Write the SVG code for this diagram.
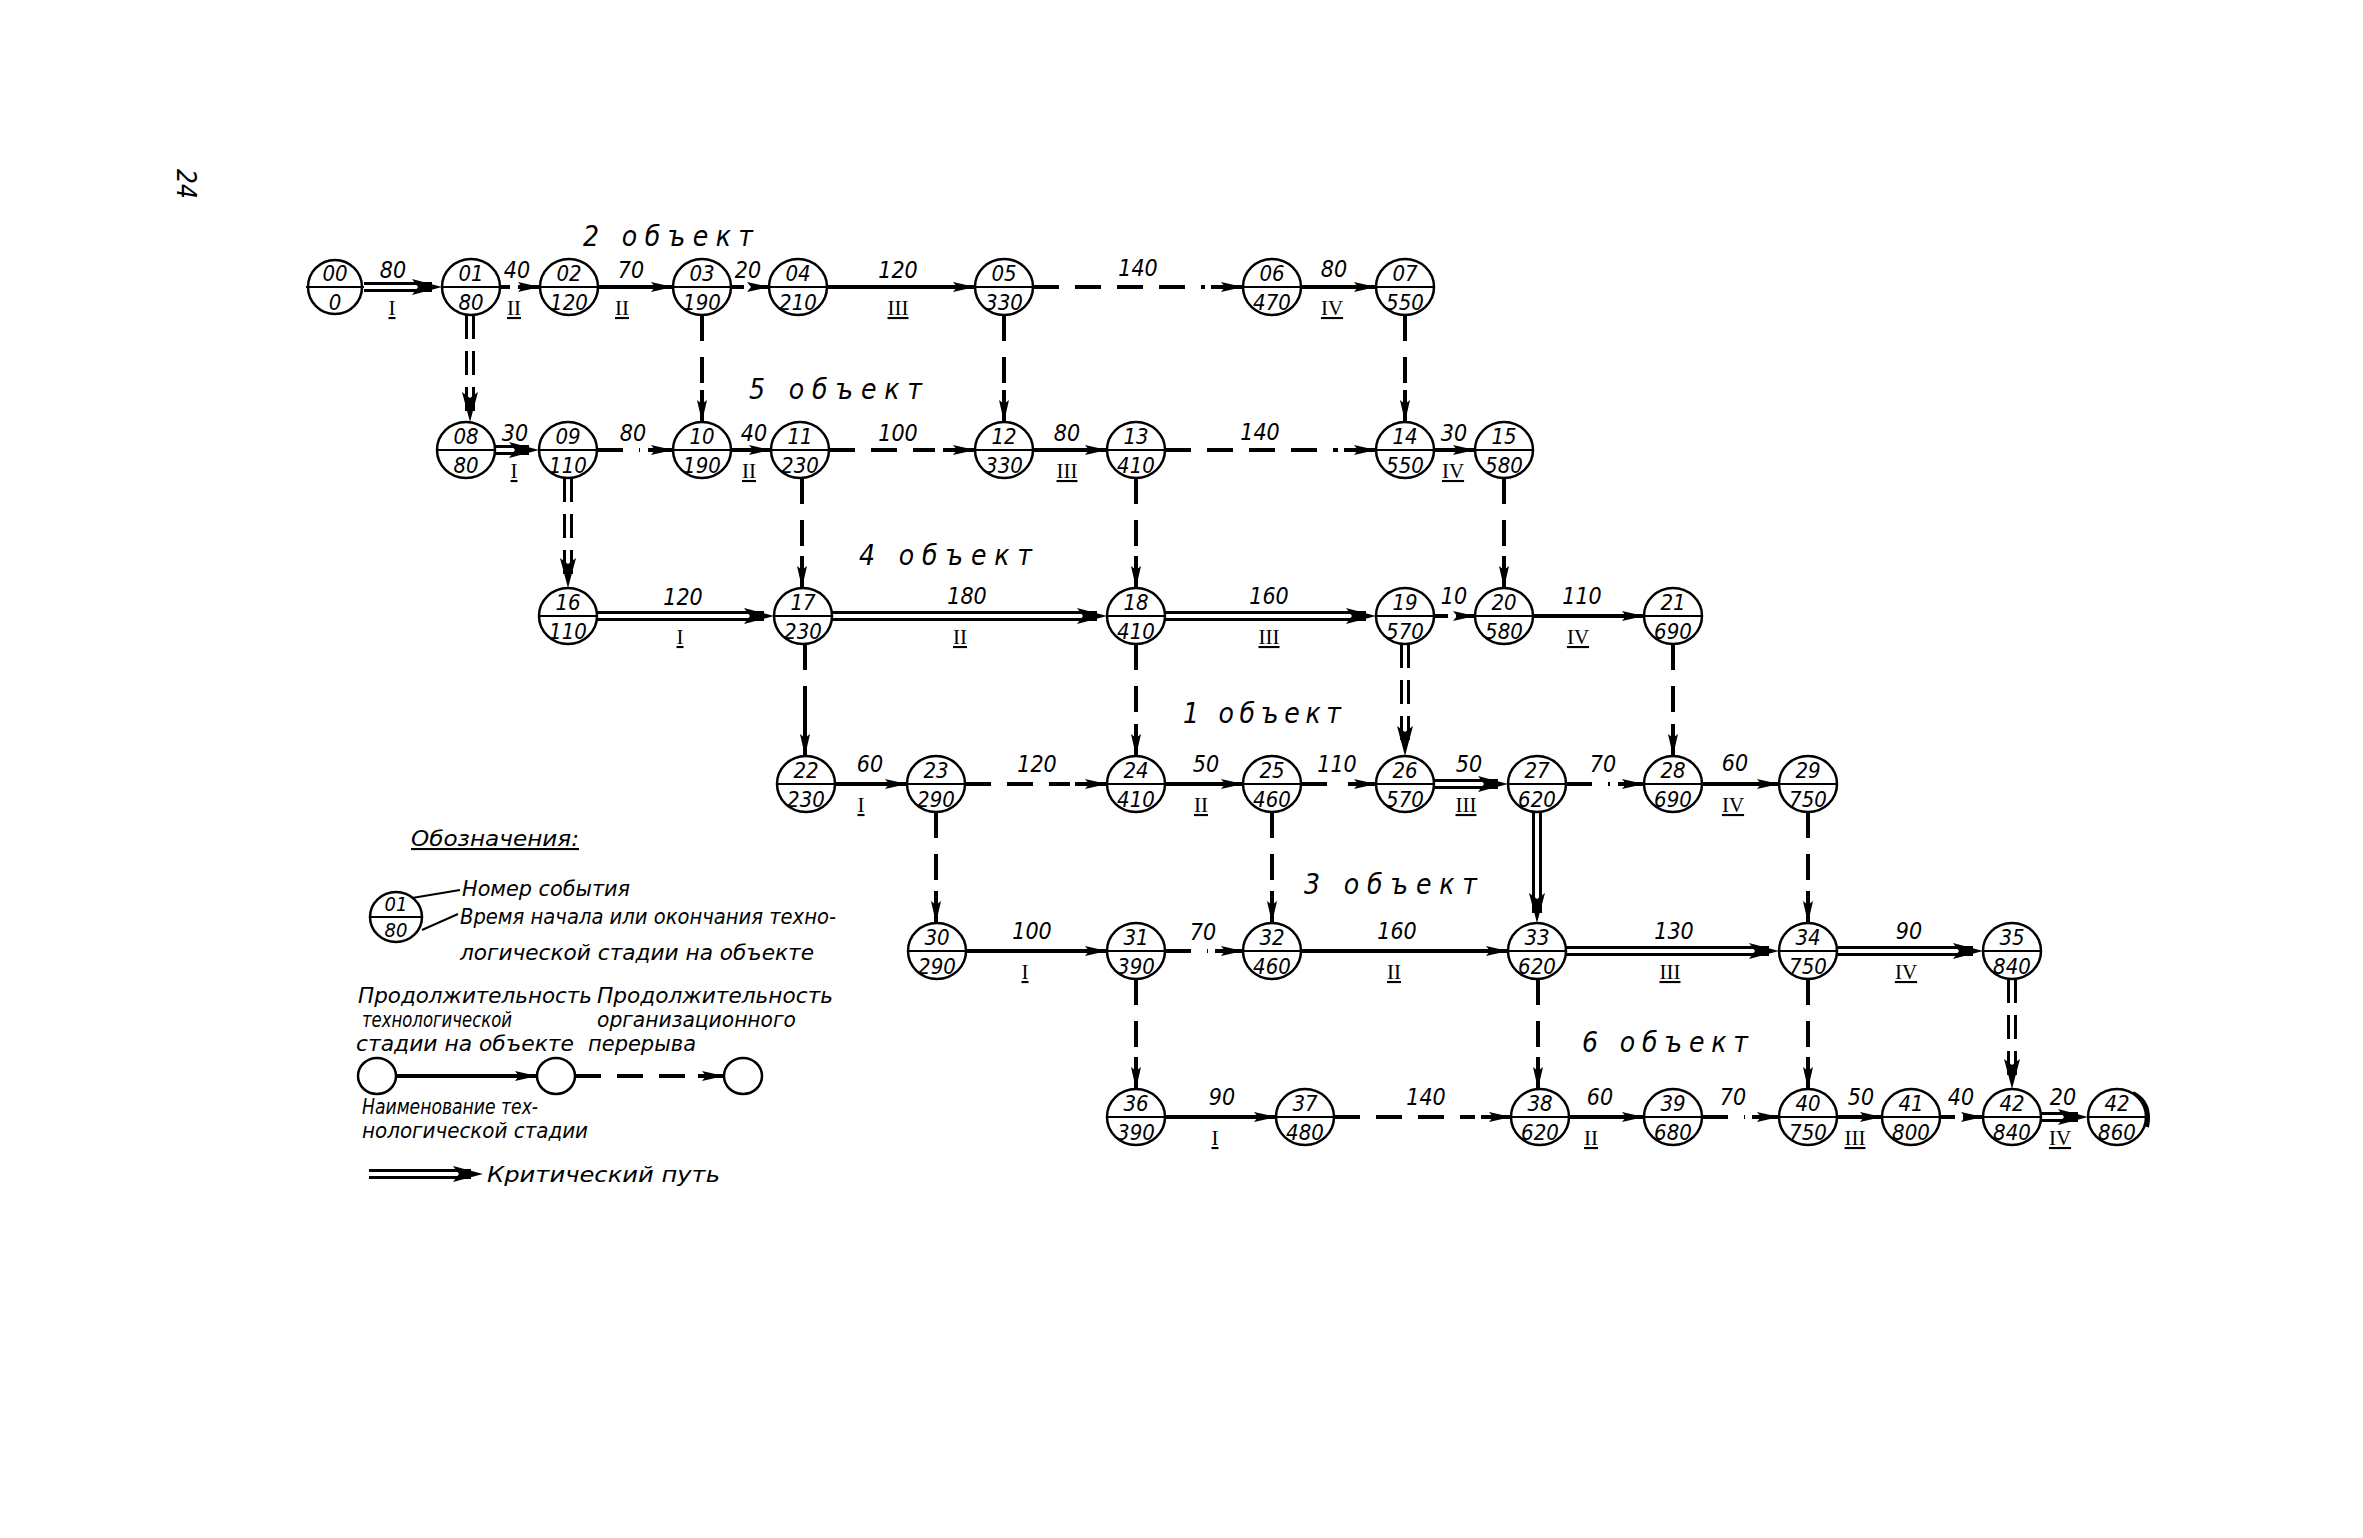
<svg xmlns="http://www.w3.org/2000/svg" width="2363" height="1538" viewBox="0 0 2363 1538">
<style>
.bg{fill:#fff}
.n ellipse{fill:#fff;stroke:#000;stroke-width:2.5}
.n line{stroke:#000;stroke-width:2}
.n text{font-family:"DejaVu Sans Condensed","DejaVu Sans",sans-serif;font-stretch:condensed;font-style:italic;font-size:22px;text-anchor:middle;fill:#000}
.s{stroke:#000;stroke-width:4;fill:none}
.d{stroke:#000;stroke-width:4;fill:none;stroke-dasharray:26 16}
.w{stroke:#000;stroke-width:3;fill:none}
.wd{stroke:#000;stroke-width:3;fill:none;stroke-dasharray:24 12}
.m{stroke:none;fill:none}
.num{font-family:"DejaVu Sans Condensed","DejaVu Sans",sans-serif;font-stretch:condensed;font-style:italic;font-size:23px;text-anchor:middle;fill:#000}
.rom{font-family:"Liberation Serif",serif;font-size:21px;text-anchor:middle;text-decoration:underline;fill:#000}
.ttl{font-family:"DejaVu Sans Condensed","DejaVu Sans",sans-serif;font-style:italic;font-size:28px;fill:#000}
.lg{font-family:"DejaVu Sans Condensed","DejaVu Sans",sans-serif;font-stretch:condensed;font-style:italic;font-size:21px;fill:#000}
</style>
<defs>
<marker id="ah" markerUnits="userSpaceOnUse" markerWidth="22" markerHeight="10" refX="22" refY="5" orient="auto"><path d="M0,0 L22,5 L0,10 L4,5 z" fill="#000"/></marker>
<marker id="ahd" markerUnits="userSpaceOnUse" markerWidth="30" markerHeight="16" refX="30" refY="8" orient="auto"><path d="M0,0 L30,8 L0,16 L6,8 z" fill="#000"/></marker>
</defs>
<rect class="bg" x="0" y="0" width="2363" height="1538"/>

<text x="184" y="184" class="num" style="font-size:26px" transform="rotate(90 184 184)" dominant-baseline="middle">24</text>

<g id="titles">
<text class="ttl" x="583" y="246" textLength="170" lengthAdjust="spacing">2 объект</text>
<text class="ttl" x="749" y="399" textLength="173" lengthAdjust="spacing">5 объект</text>
<text class="ttl" x="859" y="565" textLength="173" lengthAdjust="spacing">4 объект</text>
<text class="ttl" x="1183" y="723" textLength="158" lengthAdjust="spacing">1 объект</text>
<text class="ttl" x="1304" y="894" textLength="173" lengthAdjust="spacing">3 объект</text>
<text class="ttl" x="1582" y="1052" textLength="166" lengthAdjust="spacing">6 объект</text>
</g>

<g id="connectors">
<!-- Row 1 -->
<path class="w" d="M364,283.5 H432"/><path class="w" d="M364,290.5 H432"/><path class="m" d="M364,287 H442" marker-end="url(#ahd)"/>
<path class="s" d="M500,287 H510"/><path class="s" d="M518,287 H540" marker-end="url(#ah)"/>
<path class="s" d="M598,287 H673" marker-end="url(#ah)"/>
<path class="s" d="M731,287 H744"/><path class="s" d="M752,287 H769" marker-end="url(#ah)"/>
<path class="s" d="M827,287 H975" marker-end="url(#ah)"/>
<path class="d" d="M1033,287 H1205"/><path class="s" d="M1211,287 H1243" marker-end="url(#ah)"/>
<path class="s" d="M1301,287 H1376" marker-end="url(#ah)"/>
<!-- Row 2 -->
<path class="w" d="M495,446.5 H529"/><path class="w" d="M495,453.5 H529"/><path class="m" d="M495,450 H539" marker-end="url(#ahd)"/>
<path class="d" d="M597,450 H640"/><path class="s" d="M648,450 H673" marker-end="url(#ah)"/>
<path class="s" d="M731,450 H771" marker-end="url(#ah)"/>
<path class="d" d="M829,450 H935"/><path class="s" d="M943,450 H975" marker-end="url(#ah)"/>
<path class="s" d="M1033,450 H1107" marker-end="url(#ah)"/>
<path class="d" d="M1165,450 H1338"/><path class="s" d="M1344,450 H1376" marker-end="url(#ah)"/>
<path class="s" d="M1434,450 H1475" marker-end="url(#ah)"/>
<!-- Row 3 -->
<path class="w" d="M597,612.5 H764"/><path class="w" d="M597,619.5 H764"/><path class="m" d="M597,616 H774" marker-end="url(#ahd)"/>
<path class="w" d="M832,612.5 H1097"/><path class="w" d="M832,619.5 H1097"/><path class="m" d="M832,616 H1107" marker-end="url(#ahd)"/>
<path class="w" d="M1165,612.5 H1366"/><path class="w" d="M1165,619.5 H1366"/><path class="m" d="M1165,616 H1376" marker-end="url(#ahd)"/>
<path class="s" d="M1434,616 H1448"/><path class="s" d="M1456,616 H1475" marker-end="url(#ah)"/>
<path class="s" d="M1533,616 H1644" marker-end="url(#ah)"/>
<!-- Row 4 -->
<path class="s" d="M835,784 H907" marker-end="url(#ah)"/>
<path class="d" d="M965,784 H1070"/><path class="s" d="M1075,784 H1107" marker-end="url(#ah)"/>
<path class="s" d="M1165,784 H1243" marker-end="url(#ah)"/>
<path class="d" d="M1301,784 H1340"/><path class="s" d="M1348,784 H1376" marker-end="url(#ah)"/>
<path class="w" d="M1434,780.5 H1498"/><path class="w" d="M1434,787.5 H1498"/><path class="m" d="M1434,784 H1508" marker-end="url(#ahd)"/>
<path class="d" d="M1566,784 H1610"/><path class="s" d="M1618,784 H1644" marker-end="url(#ah)"/>
<path class="s" d="M1702,784 H1779" marker-end="url(#ah)"/>
<!-- Row 5 -->
<path class="s" d="M966,951 H1107" marker-end="url(#ah)"/>
<path class="d" d="M1165,951 H1208"/><path class="s" d="M1215,951 H1243" marker-end="url(#ah)"/>
<path class="s" d="M1301,951 H1508" marker-end="url(#ah)"/>
<path class="w" d="M1566,947.5 H1769"/><path class="w" d="M1566,954.5 H1769"/><path class="m" d="M1566,951 H1779" marker-end="url(#ahd)"/>
<path class="w" d="M1837,947.5 H1973"/><path class="w" d="M1837,954.5 H1973"/><path class="m" d="M1837,951 H1983" marker-end="url(#ahd)"/>
<!-- Row 6 -->
<path class="s" d="M1165,1117 H1276" marker-end="url(#ah)"/>
<path class="d" d="M1334,1117 H1475"/><path class="s" d="M1481,1117 H1511" marker-end="url(#ah)"/>
<path class="s" d="M1569,1117 H1644" marker-end="url(#ah)"/>
<path class="d" d="M1702,1117 H1745"/><path class="s" d="M1752,1117 H1779" marker-end="url(#ah)"/>
<path class="s" d="M1837,1117 H1882" marker-end="url(#ah)"/>
<path class="s" d="M1940,1117 H1955"/><path class="s" d="M1963,1117 H1983" marker-end="url(#ah)"/>
<path class="w" d="M2041,1113.5 H2078"/><path class="w" d="M2041,1120.5 H2078"/><path class="m" d="M2041,1117 H2088" marker-end="url(#ahd)"/>
<!-- Verticals -->
<path class="wd" d="M466.5,315 V412"/><path class="wd" d="M473.5,315 V412"/><path class="m" d="M470,315 V422" marker-end="url(#ahd)"/>
<path class="d" d="M702,315 V390"/><path class="s" d="M702,390 V422" marker-end="url(#ah)"/>
<path class="d" d="M1004,315 V390"/><path class="s" d="M1004,390 V422" marker-end="url(#ah)"/>
<path class="d" d="M1405,315 V390"/><path class="s" d="M1405,390 V422" marker-end="url(#ah)"/>
<path class="wd" d="M564.5,478 V578"/><path class="wd" d="M571.5,478 V578"/><path class="m" d="M568,478 V588" marker-end="url(#ahd)"/>
<path class="d" d="M802,478 V556"/><path class="s" d="M802,556 V588" marker-end="url(#ah)"/>
<path class="d" d="M1136,478 V556"/><path class="s" d="M1136,556 V588" marker-end="url(#ah)"/>
<path class="d" d="M1504,478 V556"/><path class="s" d="M1504,556 V588" marker-end="url(#ah)"/>
<path class="d" d="M805,644 V712"/><path class="s" d="M805,712 V756" marker-end="url(#ah)"/>
<path class="d" d="M1136,644 V724"/><path class="s" d="M1136,724 V756" marker-end="url(#ah)"/>
<path class="wd" d="M1401.5,644 V746"/><path class="wd" d="M1408.5,644 V746"/><path class="m" d="M1405,644 V756" marker-end="url(#ahd)"/>
<path class="d" d="M1673,644 V724"/><path class="s" d="M1673,724 V756" marker-end="url(#ah)"/>
<path class="d" d="M936,812 V891"/><path class="s" d="M936,891 V923" marker-end="url(#ah)"/>
<path class="d" d="M1272,812 V891"/><path class="s" d="M1272,891 V923" marker-end="url(#ah)"/>
<path class="w" d="M1533.5,812 V913"/><path class="w" d="M1540.5,812 V913"/><path class="m" d="M1537,812 V923" marker-end="url(#ahd)"/>
<path class="d" d="M1808,812 V891"/><path class="s" d="M1808,891 V923" marker-end="url(#ah)"/>
<path class="d" d="M1136,979 V1057"/><path class="s" d="M1136,1057 V1089" marker-end="url(#ah)"/>
<path class="d" d="M1538,979 V1057"/><path class="s" d="M1538,1057 V1089" marker-end="url(#ah)"/>
<path class="d" d="M1808,979 V1057"/><path class="s" d="M1808,1057 V1089" marker-end="url(#ah)"/>
<path class="wd" d="M2008.5,979 V1079"/><path class="wd" d="M2015.5,979 V1079"/><path class="m" d="M2012,979 V1089" marker-end="url(#ahd)"/>
<!-- end mark on final event -->
<path class="s" d="M2133,1093 Q2152,1103 2147,1127"/>
</g>

<g id="labels">
<text class="num" x="393" y="278">80</text><text class="rom" x="392" y="315">I</text>
<text class="num" x="517" y="278">40</text><text class="rom" x="514" y="315">II</text>
<text class="num" x="631" y="278">70</text><text class="rom" x="622" y="315">II</text>
<text class="num" x="748" y="278">20</text>
<text class="num" x="898" y="278">120</text><text class="rom" x="898" y="315">III</text>
<text class="num" x="1138" y="276">140</text>
<text class="num" x="1334" y="277">80</text><text class="rom" x="1332" y="315">IV</text>

<text class="num" x="515" y="441">30</text><text class="rom" x="514" y="478">I</text>
<text class="num" x="633" y="441">80</text>
<text class="num" x="754" y="441">40</text><text class="rom" x="749" y="478">II</text>
<text class="num" x="898" y="441">100</text>
<text class="num" x="1067" y="441">80</text><text class="rom" x="1067" y="478">III</text>
<text class="num" x="1260" y="440">140</text>
<text class="num" x="1454" y="441">30</text><text class="rom" x="1453" y="478">IV</text>

<text class="num" x="683" y="605">120</text><text class="rom" x="680" y="644">I</text>
<text class="num" x="967" y="604">180</text><text class="rom" x="960" y="644">II</text>
<text class="num" x="1269" y="604">160</text><text class="rom" x="1269" y="644">III</text>
<text class="num" x="1454" y="604">10</text>
<text class="num" x="1582" y="604">110</text><text class="rom" x="1578" y="644">IV</text>

<text class="num" x="870" y="772">60</text><text class="rom" x="861" y="812">I</text>
<text class="num" x="1037" y="772">120</text>
<text class="num" x="1206" y="772">50</text><text class="rom" x="1201" y="812">II</text>
<text class="num" x="1337" y="772">110</text>
<text class="num" x="1469" y="772">50</text><text class="rom" x="1466" y="812">III</text>
<text class="num" x="1603" y="772">70</text>
<text class="num" x="1735" y="771">60</text><text class="rom" x="1733" y="812">IV</text>

<text class="num" x="1032" y="939">100</text><text class="rom" x="1025" y="979">I</text>
<text class="num" x="1203" y="940">70</text>
<text class="num" x="1397" y="939">160</text><text class="rom" x="1394" y="979">II</text>
<text class="num" x="1674" y="939">130</text><text class="rom" x="1670" y="979">III</text>
<text class="num" x="1909" y="939">90</text><text class="rom" x="1906" y="979">IV</text>

<text class="num" x="1222" y="1105">90</text><text class="rom" x="1215" y="1145">I</text>
<text class="num" x="1426" y="1105">140</text>
<text class="num" x="1600" y="1105">60</text><text class="rom" x="1591" y="1145">II</text>
<text class="num" x="1733" y="1105">70</text>
<text class="num" x="1861" y="1105">50</text><text class="rom" x="1855" y="1145">III</text>
<text class="num" x="1961" y="1105">40</text>
<text class="num" x="2063" y="1105">20</text><text class="rom" x="2060" y="1145">IV</text>
</g>

<g id="n00" class="n"><ellipse cx="335" cy="287" rx="27" ry="27"/><line x1="306" y1="287" x2="364" y2="287"/><text x="335" y="281">00</text><text x="335" y="310">0</text></g>
<g id="n01" class="n"><ellipse cx="471" cy="287" rx="29" ry="28"/><line x1="442" y1="287" x2="500" y2="287"/><text x="471" y="281">01</text><text x="471" y="310">80</text></g>
<g id="n02" class="n"><ellipse cx="569" cy="287" rx="29" ry="28"/><line x1="540" y1="287" x2="598" y2="287"/><text x="569" y="281">02</text><text x="569" y="310">120</text></g>
<g id="n03" class="n"><ellipse cx="702" cy="287" rx="29" ry="28"/><line x1="673" y1="287" x2="731" y2="287"/><text x="702" y="281">03</text><text x="702" y="310">190</text></g>
<g id="n04" class="n"><ellipse cx="798" cy="287" rx="29" ry="28"/><line x1="769" y1="287" x2="827" y2="287"/><text x="798" y="281">04</text><text x="798" y="310">210</text></g>
<g id="n05" class="n"><ellipse cx="1004" cy="287" rx="29" ry="28"/><line x1="975" y1="287" x2="1033" y2="287"/><text x="1004" y="281">05</text><text x="1004" y="310">330</text></g>
<g id="n06" class="n"><ellipse cx="1272" cy="287" rx="29" ry="28"/><line x1="1243" y1="287" x2="1301" y2="287"/><text x="1272" y="281">06</text><text x="1272" y="310">470</text></g>
<g id="n07" class="n"><ellipse cx="1405" cy="287" rx="29" ry="28"/><line x1="1376" y1="287" x2="1434" y2="287"/><text x="1405" y="281">07</text><text x="1405" y="310">550</text></g>

<g id="n08" class="n"><ellipse cx="466" cy="450" rx="29" ry="28"/><line x1="437" y1="450" x2="495" y2="450"/><text x="466" y="444">08</text><text x="466" y="473">80</text></g>
<g id="n09" class="n"><ellipse cx="568" cy="450" rx="29" ry="28"/><line x1="539" y1="450" x2="597" y2="450"/><text x="568" y="444">09</text><text x="568" y="473">110</text></g>
<g id="n10" class="n"><ellipse cx="702" cy="450" rx="29" ry="28"/><line x1="673" y1="450" x2="731" y2="450"/><text x="702" y="444">10</text><text x="702" y="473">190</text></g>
<g id="n11" class="n"><ellipse cx="800" cy="450" rx="29" ry="28"/><line x1="771" y1="450" x2="829" y2="450"/><text x="800" y="444">11</text><text x="800" y="473">230</text></g>
<g id="n12" class="n"><ellipse cx="1004" cy="450" rx="29" ry="28"/><line x1="975" y1="450" x2="1033" y2="450"/><text x="1004" y="444">12</text><text x="1004" y="473">330</text></g>
<g id="n13" class="n"><ellipse cx="1136" cy="450" rx="29" ry="28"/><line x1="1107" y1="450" x2="1165" y2="450"/><text x="1136" y="444">13</text><text x="1136" y="473">410</text></g>
<g id="n14" class="n"><ellipse cx="1405" cy="450" rx="29" ry="28"/><line x1="1376" y1="450" x2="1434" y2="450"/><text x="1405" y="444">14</text><text x="1405" y="473">550</text></g>
<g id="n15" class="n"><ellipse cx="1504" cy="450" rx="29" ry="28"/><line x1="1475" y1="450" x2="1533" y2="450"/><text x="1504" y="444">15</text><text x="1504" y="473">580</text></g>

<g id="n16" class="n"><ellipse cx="568" cy="616" rx="29" ry="28"/><line x1="539" y1="616" x2="597" y2="616"/><text x="568" y="610">16</text><text x="568" y="639">110</text></g>
<g id="n17" class="n"><ellipse cx="803" cy="616" rx="29" ry="28"/><line x1="774" y1="616" x2="832" y2="616"/><text x="803" y="610">17</text><text x="803" y="639">230</text></g>
<g id="n18" class="n"><ellipse cx="1136" cy="616" rx="29" ry="28"/><line x1="1107" y1="616" x2="1165" y2="616"/><text x="1136" y="610">18</text><text x="1136" y="639">410</text></g>
<g id="n19" class="n"><ellipse cx="1405" cy="616" rx="29" ry="28"/><line x1="1376" y1="616" x2="1434" y2="616"/><text x="1405" y="610">19</text><text x="1405" y="639">570</text></g>
<g id="n20" class="n"><ellipse cx="1504" cy="616" rx="29" ry="28"/><line x1="1475" y1="616" x2="1533" y2="616"/><text x="1504" y="610">20</text><text x="1504" y="639">580</text></g>
<g id="n21" class="n"><ellipse cx="1673" cy="616" rx="29" ry="28"/><line x1="1644" y1="616" x2="1702" y2="616"/><text x="1673" y="610">21</text><text x="1673" y="639">690</text></g>

<g id="n22" class="n"><ellipse cx="806" cy="784" rx="29" ry="28"/><line x1="777" y1="784" x2="835" y2="784"/><text x="806" y="778">22</text><text x="806" y="807">230</text></g>
<g id="n23" class="n"><ellipse cx="936" cy="784" rx="29" ry="28"/><line x1="907" y1="784" x2="965" y2="784"/><text x="936" y="778">23</text><text x="936" y="807">290</text></g>
<g id="n24" class="n"><ellipse cx="1136" cy="784" rx="29" ry="28"/><line x1="1107" y1="784" x2="1165" y2="784"/><text x="1136" y="778">24</text><text x="1136" y="807">410</text></g>
<g id="n25" class="n"><ellipse cx="1272" cy="784" rx="29" ry="28"/><line x1="1243" y1="784" x2="1301" y2="784"/><text x="1272" y="778">25</text><text x="1272" y="807">460</text></g>
<g id="n26" class="n"><ellipse cx="1405" cy="784" rx="29" ry="28"/><line x1="1376" y1="784" x2="1434" y2="784"/><text x="1405" y="778">26</text><text x="1405" y="807">570</text></g>
<g id="n27" class="n"><ellipse cx="1537" cy="784" rx="29" ry="28"/><line x1="1508" y1="784" x2="1566" y2="784"/><text x="1537" y="778">27</text><text x="1537" y="807">620</text></g>
<g id="n28" class="n"><ellipse cx="1673" cy="784" rx="29" ry="28"/><line x1="1644" y1="784" x2="1702" y2="784"/><text x="1673" y="778">28</text><text x="1673" y="807">690</text></g>
<g id="n29" class="n"><ellipse cx="1808" cy="784" rx="29" ry="28"/><line x1="1779" y1="784" x2="1837" y2="784"/><text x="1808" y="778">29</text><text x="1808" y="807">750</text></g>

<g id="n30" class="n"><ellipse cx="937" cy="951" rx="29" ry="28"/><line x1="908" y1="951" x2="966" y2="951"/><text x="937" y="945">30</text><text x="937" y="974">290</text></g>
<g id="n31" class="n"><ellipse cx="1136" cy="951" rx="29" ry="28"/><line x1="1107" y1="951" x2="1165" y2="951"/><text x="1136" y="945">31</text><text x="1136" y="974">390</text></g>
<g id="n32" class="n"><ellipse cx="1272" cy="951" rx="29" ry="28"/><line x1="1243" y1="951" x2="1301" y2="951"/><text x="1272" y="945">32</text><text x="1272" y="974">460</text></g>
<g id="n33" class="n"><ellipse cx="1537" cy="951" rx="29" ry="28"/><line x1="1508" y1="951" x2="1566" y2="951"/><text x="1537" y="945">33</text><text x="1537" y="974">620</text></g>
<g id="n34" class="n"><ellipse cx="1808" cy="951" rx="29" ry="28"/><line x1="1779" y1="951" x2="1837" y2="951"/><text x="1808" y="945">34</text><text x="1808" y="974">750</text></g>
<g id="n35" class="n"><ellipse cx="2012" cy="951" rx="29" ry="28"/><line x1="1983" y1="951" x2="2041" y2="951"/><text x="2012" y="945">35</text><text x="2012" y="974">840</text></g>

<g id="n36" class="n"><ellipse cx="1136" cy="1117" rx="29" ry="28"/><line x1="1107" y1="1117" x2="1165" y2="1117"/><text x="1136" y="1111">36</text><text x="1136" y="1140">390</text></g>
<g id="n37" class="n"><ellipse cx="1305" cy="1117" rx="29" ry="28"/><line x1="1276" y1="1117" x2="1334" y2="1117"/><text x="1305" y="1111">37</text><text x="1305" y="1140">480</text></g>
<g id="n38" class="n"><ellipse cx="1540" cy="1117" rx="29" ry="28"/><line x1="1511" y1="1117" x2="1569" y2="1117"/><text x="1540" y="1111">38</text><text x="1540" y="1140">620</text></g>
<g id="n39" class="n"><ellipse cx="1673" cy="1117" rx="29" ry="28"/><line x1="1644" y1="1117" x2="1702" y2="1117"/><text x="1673" y="1111">39</text><text x="1673" y="1140">680</text></g>
<g id="n40" class="n"><ellipse cx="1808" cy="1117" rx="29" ry="28"/><line x1="1779" y1="1117" x2="1837" y2="1117"/><text x="1808" y="1111">40</text><text x="1808" y="1140">750</text></g>
<g id="n41" class="n"><ellipse cx="1911" cy="1117" rx="29" ry="28"/><line x1="1882" y1="1117" x2="1940" y2="1117"/><text x="1911" y="1111">41</text><text x="1911" y="1140">800</text></g>
<g id="n42" class="n"><ellipse cx="2012" cy="1117" rx="29" ry="28"/><line x1="1983" y1="1117" x2="2041" y2="1117"/><text x="2012" y="1111">42</text><text x="2012" y="1140">840</text></g>
<g id="n42b" class="n"><ellipse cx="2117" cy="1117" rx="29" ry="28"/><line x1="2088" y1="1117" x2="2148" y2="1117"/><text x="2117" y="1111">42</text><text x="2117" y="1140">860</text></g>

<g id="legend">
<text class="lg" x="411" y="846" textLength="168" lengthAdjust="spacingAndGlyphs" style="text-decoration:underline">Обозначения:</text>
<g id="lg-node" class="n"><ellipse cx="396" cy="917" rx="26" ry="25"/><line x1="370" y1="917" x2="422" y2="917"/><text x="396" y="911" style="font-size:20px">01</text><text x="396" y="937" style="font-size:20px">80</text></g>
<path d="M412,898 L460,890" stroke="#000" stroke-width="2" fill="none"/>
<path d="M422,930 L458,914" stroke="#000" stroke-width="2" fill="none"/>
<text class="lg" x="462" y="896" textLength="168" lengthAdjust="spacingAndGlyphs">Номер события</text>
<text class="lg" x="460" y="924" textLength="376" lengthAdjust="spacingAndGlyphs">Время начала или окончания техно-</text>
<text class="lg" x="460" y="960" textLength="354" lengthAdjust="spacingAndGlyphs">логической стадии на объекте</text>
<text class="lg" x="358" y="1003" textLength="234" lengthAdjust="spacingAndGlyphs">Продолжительность</text>
<text class="lg" x="597" y="1003" textLength="236" lengthAdjust="spacingAndGlyphs">Продолжительность</text>
<text class="lg" x="362" y="1027" textLength="150" lengthAdjust="spacingAndGlyphs">технологической</text>
<text class="lg" x="597" y="1027" textLength="199" lengthAdjust="spacingAndGlyphs">организационного</text>
<text class="lg" x="356" y="1051" textLength="218" lengthAdjust="spacingAndGlyphs">стадии на объекте</text>
<text class="lg" x="588" y="1051" textLength="108" lengthAdjust="spacingAndGlyphs">перерыва</text>
<ellipse cx="377" cy="1076" rx="19" ry="18" fill="#fff" stroke="#000" stroke-width="2.5"/>
<ellipse cx="556" cy="1076" rx="19" ry="18" fill="#fff" stroke="#000" stroke-width="2.5"/>
<ellipse cx="743" cy="1076" rx="19" ry="18" fill="#fff" stroke="#000" stroke-width="2.5"/>
<path class="s" d="M396,1076 H537" marker-end="url(#ah)"/>
<path class="d" d="M575,1076 H692"/><path class="s" d="M698,1076 H724" marker-end="url(#ah)"/>
<text class="lg" x="362" y="1114" textLength="176" lengthAdjust="spacingAndGlyphs">Наименование тех-</text>
<text class="lg" x="362" y="1138" textLength="226" lengthAdjust="spacingAndGlyphs">нологической стадии</text>
<path class="w" d="M369,1170.5 H471"/><path class="w" d="M369,1177.5 H471"/><path class="m" d="M369,1174 H483" marker-end="url(#ahd)"/>
<text class="lg" x="487" y="1182" textLength="233" lengthAdjust="spacingAndGlyphs">Критический путь</text>
</g>
</svg>
